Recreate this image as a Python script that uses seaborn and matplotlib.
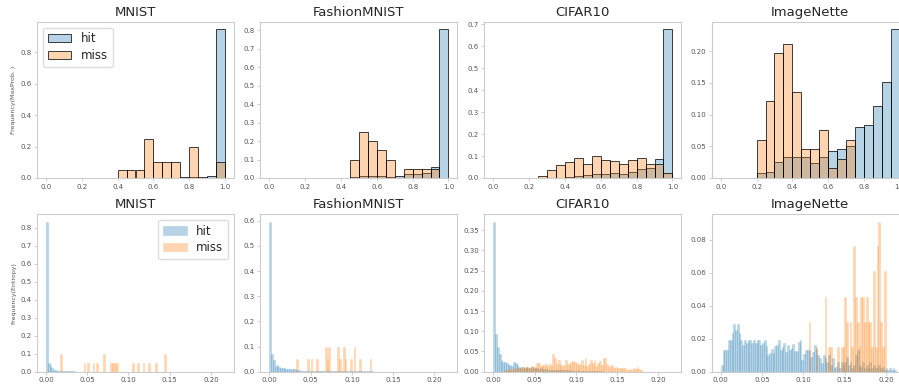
import numpy as np
import pandas as pd
import matplotlib
matplotlib.use("Agg")
import matplotlib.pyplot as plt
import seaborn as sns
from matplotlib.ticker import MultipleLocator
from matplotlib.patches import Patch

# ---------------- data ----------------
datasets = ["MNIST", "FashionMNIST", "CIFAR10", "ImageNette"]

# MaxProb histograms: 20 bins of width 0.05 on [0, 1] (probability per bin)
mnist_prob_hit = [0, 0, 0, 0, 0, 0, 0.001, 0.001, 0.001, 0.001,
                  0.002, 0.002, 0.002, 0.002, 0.003, 0.006, 0.006, 0.008, 0.012, 0.948]
mnist_prob_miss = [0, 0, 0, 0, 0, 0, 0, 0, 0.05, 0.05,
                   0.05, 0.25, 0.10, 0.10, 0.10, 0, 0.20, 0, 0, 0.10]
fashion_prob_hit = [0, 0, 0, 0, 0, 0, 0, 0.002, 0, 0.005,
                    0.013, 0.013, 0.010, 0.008, 0.012, 0.020, 0.020, 0.025, 0.060, 0.806]
fashion_prob_miss = [0, 0, 0, 0, 0, 0, 0, 0, 0, 0.10,
                     0.25, 0.20, 0.15, 0.10, 0, 0.05, 0.05, 0.05, 0.05, 0]
cifar_prob_hit = [0, 0, 0, 0, 0, 0, 0.001, 0.002, 0.004, 0.008,
                  0.014, 0.020, 0.020, 0.021, 0.020, 0.029, 0.042, 0.045, 0.086, 0.677]
cifar_prob_miss = [0, 0, 0, 0, 0, 0.011, 0.036, 0.060, 0.074, 0.092,
                   0.062, 0.101, 0.083, 0.078, 0.065, 0.083, 0.089, 0.065, 0.065, 0.024]
imagenette_prob_hit = [0, 0, 0, 0, 0.008, 0.010, 0.025, 0.0325, 0.0325, 0.0325,
                       0.0235, 0.0325, 0.043, 0.045, 0.051, 0.081, 0.083, 0.114, 0.152, 0.235]
imagenette_prob_miss = [0, 0, 0, 0, 0.060, 0.121, 0.197, 0.2115, 0.136, 0.045,
                        0.045, 0.076, 0.015, 0.030, 0.060, 0, 0, 0, 0, 0]

# Entropy histograms: 100 bins on [0, 0.217]
ENT_BINS = 100
ENT_MAX = 0.217

# hit: values for the first bins (remaining bins are empty)
mnist_ent_hit = [0.835, 0.047, 0.036, 0.022, 0.012, 0.008, 0.006, 0.005, 0.004, 0.004,
                 0.003, 0.003, 0.002, 0.002, 0.002, 0.002, 0.001, 0.001, 0.001, 0.001,
                 0.001, 0.001, 0.001, 0.001]
fashion_ent_hit = [0.597, 0.070, 0.046, 0.024, 0.028, 0.020, 0.016, 0.015, 0.013, 0.012,
                   0.012, 0.011, 0.010, 0.010, 0.009, 0.005, 0.005, 0.004, 0.004, 0.004,
                   0.004, 0.003, 0.003, 0.003, 0.003, 0.003, 0.003, 0.003, 0.003, 0.003,
                   0.002, 0.002, 0.002, 0.002, 0.002, 0.002, 0.002, 0.002, 0.002, 0.002,
                   0.002, 0.002, 0.002, 0.002, 0.002, 0.002, 0.002, 0.002, 0.001, 0.001,
                   0.001, 0.001, 0.001, 0.001, 0.001, 0.001, 0.001, 0.001]
cifar_ent_hit = [0.3715, 0.093, 0.062, 0.044, 0.029, 0.023, 0.025, 0.022, 0.016, 0.016,
                 0.014, 0.023, 0.022, 0.016, 0.012, 0.010, 0.011, 0.009, 0.012, 0.010,
                 0.008, 0.012, 0.010, 0.009, 0.008, 0.007, 0.008, 0.006, 0.007, 0.006,
                 0.005, 0.005, 0.004, 0.005, 0.004, 0.004, 0.004, 0.003, 0.004, 0.003,
                 0.003, 0.003, 0.002, 0.003, 0.002, 0.002, 0.002, 0.002, 0.002, 0.001,
                 0.002, 0.001, 0.001, 0.001, 0.001, 0.001, 0.001, 0.001, 0.001, 0.001,
                 0.001]
imagenette_ent_hit = [0.004, 0.013, 0.013, 0.013, 0.0195, 0.0195, 0.0235, 0.029, 0.0255, 0.029,
                      0.0235, 0.0195, 0.016, 0.0195, 0.0175, 0.0195, 0.0195, 0.0175, 0.0195, 0.0175,
                      0.0195, 0.019, 0.016, 0.0175, 0.0195, 0.0155, 0.010, 0.0115, 0.014, 0.0115,
                      0.0155, 0.016, 0.0195, 0.013, 0.015, 0.0175, 0.012, 0.016, 0.013, 0.0145,
                      0.0165, 0.0125, 0.0125, 0.018, 0.0195, 0.007, 0.011, 0.013, 0.013, 0.013,
                      0.009, 0.012, 0.016, 0.014, 0.010, 0.008, 0.005, 0.010, 0.008, 0.006,
                      0.010, 0.004, 0.008, 0.002, 0.003, 0.006, 0.002, 0.006, 0.004, 0.006,
                      0.009, 0.004, 0.006, 0.002, 0.004, 0.010, 0.013, 0.004, 0.003, 0.006,
                      0.002, 0.004, 0.002, 0.006, 0.002, 0.004, 0.002, 0.003, 0.004, 0.002,
                      0.003, 0.001, 0.002, 0.001, 0.002, 0.001, 0.002, 0.001]

# miss: sparse (bin index, value)
mnist_ent_miss_bins = [8, 21, 23, 26, 28, 32, 36, 37, 38, 39, 48, 51, 54, 57, 61, 66]
mnist_ent_miss_vals = [0.10, 0.05, 0.05, 0.05, 0.05, 0.10, 0.05, 0.05, 0.05, 0.05,
                       0.05, 0.05, 0.05, 0.05, 0.05, 0.10]
fashion_ent_miss_bins = [15, 21, 23, 26, 31, 32, 33, 38, 39, 41, 42, 45, 47, 50, 56]
fashion_ent_miss_vals = [0.05, 0.05, 0.05, 0.05, 0.10, 0.05, 0.10, 0.10, 0.05, 0.10,
                         0.05, 0.05, 0.10, 0.05, 0.05]
cifar_ent_miss_bins = list(range(6, 83))
cifar_ent_miss_vals = [0.003, 0.005, 0.004, 0.006, 0.005,
                       0.008, 0.007, 0.010, 0.009, 0.012, 0.011, 0.010, 0.013,
                       0.012, 0.010, 0.014, 0.012, 0.011,
                       0.021, 0.022, 0.015, 0.017, 0.016, 0.018, 0.014, 0.020, 0.015,
                       0.045, 0.035, 0.018, 0.028, 0.020, 0.015, 0.016, 0.030, 0.019, 0.018,
                       0.024, 0.027, 0.025, 0.022, 0.016, 0.020, 0.028, 0.016, 0.035, 0.014,
                       0.020, 0.028, 0.021, 0.030, 0.014, 0.022, 0.026, 0.016, 0.033, 0.033,
                       0.020, 0.012, 0.016, 0.015, 0.010, 0.012, 0.008, 0.010, 0.009, 0.010,
                       0.008, 0.004, 0.003, 0.007, 0.005, 0.010, 0.007, 0.012, 0.006, 0.003]
imagenette_ent_miss_bins = [49, 53, 58, 60, 61, 65, 67, 68, 69, 70, 72, 73, 74, 75, 76,
                            77, 78, 79, 80, 81, 82, 83, 84, 85, 86, 87, 88, 89, 90, 91]
imagenette_ent_miss_vals = [0.030, 0.015, 0.045, 0.015, 0.015, 0.015, 0.015, 0.015, 0.045, 0.030,
                            0.030, 0.015, 0.076, 0.045, 0.030, 0.015, 0.045, 0.045, 0.030, 0.045,
                            0.030, 0.030, 0.015, 0.061, 0.015, 0.076, 0.091, 0.030, 0.015, 0.061]

prob_hit = [mnist_prob_hit, fashion_prob_hit, cifar_prob_hit, imagenette_prob_hit]
prob_miss = [mnist_prob_miss, fashion_prob_miss, cifar_prob_miss, imagenette_prob_miss]
ent_hit = [mnist_ent_hit, fashion_ent_hit, cifar_ent_hit, imagenette_ent_hit]
ent_miss = [(mnist_ent_miss_bins, mnist_ent_miss_vals),
            (fashion_ent_miss_bins, fashion_ent_miss_vals),
            (cifar_ent_miss_bins, cifar_ent_miss_vals),
            (imagenette_ent_miss_bins, imagenette_ent_miss_vals)]

prob_ytick_steps = [0.2, 0.1, 0.1, 0.05]
ent_ytick_steps = [0.1, 0.1, 0.05, 0.02]

# ---------------- style ----------------
sns.set_style("white", {
    "axes.edgecolor": "#cccccc",
    "xtick.bottom": True, "ytick.left": True,
    "xtick.color": "#bbbbbb", "ytick.color": "#bbbbbb",
})
plt.rcParams["font.family"] = ["DejaVu Sans"]
plt.rcParams.update({
    "xtick.labelcolor": "#555555", "ytick.labelcolor": "#555555",
    "xtick.labelsize": 5, "ytick.labelsize": 5,
    "xtick.major.size": 2, "ytick.major.size": 2,
    "xtick.major.width": 0.5, "ytick.major.width": 0.5,
    "xtick.major.pad": 2, "ytick.major.pad": 2,
    "axes.linewidth": 0.8,
})

BLUE = "#1f77b4"
ORANGE = "#ff7f0e"

W, H = 899, 386
fig = plt.figure(figsize=(W / 100, H / 100), dpi=100)

lefts = [37.0, 260.4, 484.4, 711.8]
axw = 197.0


def px_axes(left, top, width, height):
    return fig.add_axes([left / W, 1 - (top + height) / H, width / W, height / H])


prob_edges = np.linspace(0, 1, 21)
prob_centers = (prob_edges[:-1] + prob_edges[1:]) / 2
ent_edges = np.linspace(0, ENT_MAX, ENT_BINS + 1)
ent_centers = (ent_edges[:-1] + ent_edges[1:]) / 2


def hide_empty(ax):
    for p in ax.patches:
        if p.get_height() <= 0:
            p.set_visible(False)


for i, name in enumerate(datasets):
    # ---- top row: MaxProb ----
    ax = px_axes(lefts[i], 21.7, axw, 156.3)
    df_hit = pd.DataFrame({"v": prob_centers, "w": prob_hit[i]})
    df_miss = pd.DataFrame({"v": prob_centers, "w": prob_miss[i]})
    sns.histplot(data=df_hit, x="v", weights="w", bins=20, binrange=(0, 1), color=BLUE,
                 alpha=0.32, edgecolor=(0, 0, 0, 0.75), linewidth=0.7, ax=ax)
    sns.histplot(data=df_miss, x="v", weights="w", bins=20, binrange=(0, 1), color=ORANGE,
                 alpha=0.32, edgecolor=(0, 0, 0, 0.75), linewidth=0.7, ax=ax)
    hide_empty(ax)
    ax.set_title(name, fontsize=9.5, pad=4)
    ax.set_xlabel("")
    ax.set_ylabel("")
    ax.xaxis.set_major_locator(MultipleLocator(0.2))
    ax.yaxis.set_major_locator(MultipleLocator(prob_ytick_steps[i]))
    if i == 0:
        ax.set_ylabel("Frequency(MaxProb. )", fontsize=4.5, color="#555555", labelpad=3)
        handles = [Patch(facecolor=(0.12, 0.47, 0.71, 0.32), edgecolor=(0, 0, 0, 0.75), linewidth=0.7),
                   Patch(facecolor=(1.0, 0.5, 0.05, 0.32), edgecolor=(0, 0, 0, 0.75), linewidth=0.7)]
        ax.legend(handles, ["hit", "miss"], loc="upper left", fontsize=8.5,
                  frameon=True, edgecolor="#dddddd", framealpha=1,
                  handlelength=2.0, handletextpad=0.8, borderpad=0.4, labelspacing=0.3)

    # ---- bottom row: Entropy ----
    ax = px_axes(lefts[i], 214.0, axw, 157.7)
    hit_vals = list(ent_hit[i]) + [0.0] * (ENT_BINS - len(ent_hit[i]))
    miss_vals = [0.0] * ENT_BINS
    for b, v in zip(*ent_miss[i]):
        miss_vals[b] = v
    df_hit = pd.DataFrame({"v": ent_centers, "w": hit_vals})
    df_miss = pd.DataFrame({"v": ent_centers, "w": miss_vals})
    sns.histplot(data=df_hit, x="v", weights="w", bins=ENT_BINS, binrange=(0, ENT_MAX), color=BLUE,
                 alpha=0.32, edgecolor=(0.12, 0.47, 0.71, 0.25), linewidth=0.4, ax=ax)
    sns.histplot(data=df_miss, x="v", weights="w", bins=ENT_BINS, binrange=(0, ENT_MAX), color=ORANGE,
                 alpha=0.32, edgecolor=(1.0, 0.5, 0.05, 0.25), linewidth=0.4, ax=ax)
    hide_empty(ax)
    ax.set_title(name, fontsize=9.5, pad=4)
    ax.set_xlabel("")
    ax.set_ylabel("")
    ax.xaxis.set_major_locator(MultipleLocator(0.05))
    ax.yaxis.set_major_locator(MultipleLocator(ent_ytick_steps[i]))
    if i == 0:
        ax.set_ylabel("Frequency(Entropy)", fontsize=4.5, color="#555555", labelpad=3)
        handles = [Patch(facecolor=(0.12, 0.47, 0.71, 0.32), edgecolor=(0.12, 0.47, 0.71, 0.25), linewidth=0.4),
                   Patch(facecolor=(1.0, 0.5, 0.05, 0.32), edgecolor=(1.0, 0.5, 0.05, 0.25), linewidth=0.4)]
        ax.legend(handles, ["hit", "miss"], loc="upper right", fontsize=8.5,
                  frameon=True, edgecolor="#dddddd", framealpha=1,
                  handlelength=2.0, handletextpad=0.8, borderpad=0.4, labelspacing=0.3)

fig.savefig("out.png", dpi=100)
